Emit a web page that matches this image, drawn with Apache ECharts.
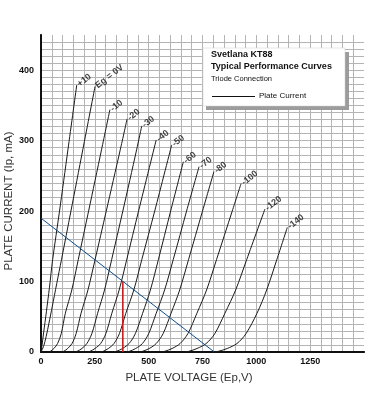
<!DOCTYPE html>
<html><head><meta charset="utf-8">
<script src="https://cdn.jsdelivr.net/npm/echarts@6/dist/echarts.min.js"></script>
<style>html,body{margin:0;padding:0;background:#fff}#c{width:382px;height:396px}</style>
</head><body><div id="c"></div>
<script>
// Grid-voltage labels for each plate curve
const gridVoltages = ['+10', 'Eg = 0V', '-10', '-20', '-30', '-40', '-50', '-60', '-70', '-80', '-100', '-120', '-140'];
// Plate curves: [plate voltage (V), plate current (mA)]
const curveP10 = [[0,0],[5,10],[12,27],[25,57],[39,91],[54,131],[86,200],[125,287],[166,379]];
const curve0   = [[0,0],[12,8],[24,22],[37,41],[52,64],[73,97],[95,131],[139,200],[194,287],[251,377]];
const curveM10 = [[35,0],[44,1],[60,5],[77,12],[94,26],[113,55],[143,88],[173,131],[221,200],[281,287],[320,344]];
const curveM20 = [[95,0],[106,1],[124,5],[144,12],[163,26],[186,55],[218,88],[251,131],[303,200],[368,287],[400,331]];
const curveM30 = [[155,0],[168,1],[190,5],[213,12],[236,26],[263,55],[295,88],[328,131],[380,200],[444,287],[468,321]];
const curveM40 = [[215,0],[228,1],[251,5],[277,12],[301,26],[329,55],[363,88],[398,131],[453,200],[535,301]];
const curveM50 = [[275,0],[289,1],[313,5],[339,12],[364,26],[394,55],[431,88],[468,131],[528,200],[607,294]];
const curveM60 = [[335,0],[351,1],[379,5],[409,12],[438,26],[472,55],[508,88],[545,131],[602,200],[661,270]];
const curveM70 = [[395,0],[411,1],[440,5],[471,12],[500,26],[535,55],[574,88],[614,131],[676,200],[734,263]];
const curveM80 = [[455,0],[472,1],[503,5],[535,12],[567,26],[604,55],[644,88],[685,131],[750,200],[803,256]];
const curveM100 = [[555,0],[575,1],[609,5],[646,12],[682,26],[724,55],[769,88],[815,131],[888,200],[929,239]];
const curveM120 = [[665,0],[687,1],[725,5],[767,12],[807,26],[854,55],[904,88],[955,131],[1040,203]];
const curveM140 = [[800,0],[824,1],[865,5],[910,12],[952,26],[1003,55],[1048,88],[1095,131],[1144,177]];
const curves = [curveP10, curve0, curveM10, curveM20, curveM30, curveM40, curveM50, curveM60, curveM70, curveM80, curveM100, curveM120, curveM140];
// Load line and operating point
const loadLine = [[0,190],[805,0]];
const operatingLine = [[380,0],[380,100]];
// Tick labels
const xTickLabels = [0, 250, 500, 750, 1000, 1250];
const yTickLabels = [0, 100, 200, 300, 400];

const FONT = 'Liberation Sans, Arial, sans-serif';
const chart = echarts.init(document.getElementById('c'), null, {renderer: 'canvas'});

const series = curves.map(c => ({
  type: 'line', data: c, smooth: 0.3, symbol: 'none',
  lineStyle: {color: '#1a1a1a', width: 1}, silent: true, z: 3
}));
series.push({type: 'line', data: loadLine, symbol: 'none', lineStyle: {color: '#0b4d8c', width: 1}, z: 4});
series.push({type: 'line', data: operatingLine, symbol: 'none', lineStyle: {color: '#e31010', width: 1.6}, z: 4});
series.push({
  type: 'scatter', data: curves.map(c => c[c.length - 1]), symbolSize: 1,
  itemStyle: {color: 'rgba(0,0,0,0)'}, z: 5,
  label: {show: true, position: 'right', distance: 1, rotate: 38,
    formatter: p => gridVoltages[p.dataIndex],
    fontFamily: FONT, fontSize: 9, fontWeight: 'bold', color: '#111'}
});

chart.setOption({
  animation: false,
  grid: {left: 41, top: 35, right: 18, bottom: 44, containLabel: false},
  xAxis: [{
    type: 'value', min: 0, max: 1500, interval: 50, position: 'bottom',
    axisLine: {show: true, lineStyle: {color: '#111', width: 2}},
    axisTick: {show: false},
    axisLabel: {margin: 5, fontFamily: FONT, fontSize: 9, fontWeight: 'bold', color: '#111',
      formatter: v => xTickLabels.indexOf(v) >= 0 ? String(v) : ''},
    splitLine: {show: true, showMinLine: false, showMaxLine: false, lineStyle: {color: '#b4b4b4', width: 1}}
  }, {
    type: 'value', min: 0, max: 1500, position: 'top',
    axisLine: {show: true, lineStyle: {color: '#111', width: 1.5}},
    axisTick: {show: false}, axisLabel: {show: false}, splitLine: {show: false}
  }],
  yAxis: [{
    type: 'value', min: 0, max: 450, interval: 10, position: 'left',
    axisLine: {show: true, lineStyle: {color: '#111', width: 2}},
    axisTick: {show: false},
    axisLabel: {margin: 7, fontFamily: FONT, fontSize: 9, fontWeight: 'bold', color: '#111',
      formatter: v => yTickLabels.indexOf(v) >= 0 ? String(v) : ''},
    splitLine: {show: true, showMinLine: false, showMaxLine: false, lineStyle: {color: '#b4b4b4', width: 1}}
  }, {
    type: 'value', min: 0, max: 450, position: 'right',
    axisLine: {show: true, lineStyle: {color: '#111', width: 1.5}},
    axisTick: {show: false}, axisLabel: {show: false}, splitLine: {show: false}
  }],
  series: series,
  graphic: [
    {type: 'rect', z: 10, shape: {x: 206, y: 52, width: 143, height: 58}, style: {fill: '#9c9c9c'}},
    {type: 'rect', z: 11, shape: {x: 203, y: 48, width: 142, height: 58}, style: {fill: '#fff', stroke: '#cfcfcf', lineWidth: 0.5}},
    {type: 'text', z: 12, x: 211, y: 55, style: {text: 'Svetlana KT88', font: 'bold 9px ' + FONT, fill: '#111', align: 'left', verticalAlign: 'middle'}},
    {type: 'text', z: 12, x: 211, y: 67, style: {text: 'Typical Performance Curves', font: 'bold 9px ' + FONT, fill: '#111', align: 'left', verticalAlign: 'middle'}},
    {type: 'text', z: 12, x: 211, y: 79, style: {text: 'Triode Connection', font: '7.5px ' + FONT, fill: '#111', align: 'left', verticalAlign: 'middle'}},
    {type: 'line', z: 12, shape: {x1: 212, y1: 96.5, x2: 255, y2: 96.5}, style: {stroke: '#111', lineWidth: 1}},
    {type: 'text', z: 12, x: 259, y: 96, style: {text: 'Plate Current', font: '8px ' + FONT, fill: '#111', align: 'left', verticalAlign: 'middle'}},
    {type: 'text', z: 12, x: 189, y: 378, style: {text: 'PLATE VOLTAGE (Ep,V)', font: '11.5px ' + FONT, fill: '#333', align: 'center', verticalAlign: 'middle'}},
    {type: 'text', z: 12, x: 9, y: 201, rotation: Math.PI / 2, style: {text: 'PLATE CURRENT (Ip, mA)', font: '11.5px ' + FONT, fill: '#333', align: 'center', verticalAlign: 'middle'}}
  ]
});
</script></body></html>
